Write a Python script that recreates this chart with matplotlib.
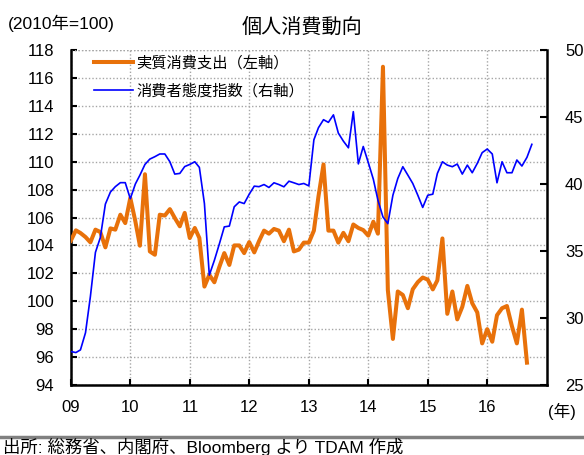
import matplotlib
matplotlib.use('Agg')
import matplotlib.pyplot as plt
import matplotlib.dates as mdates
import pandas as pd

plt.rcParams['font.family'] = ['Liberation Sans', 'Noto Sans CJK JP']

# 月次データ (2008-12 〜)
spending = [104.34, 105.08, 104.89, 104.6, 104.22, 105.13, 104.96, 103.86, 105.22, 105.13,
            106.2, 105.6, 107.4, 105.73, 103.98, 109.1, 103.57, 103.33, 106.2, 106.14,
            106.6, 105.97, 105.37, 106.33, 104.53, 105.25, 104.53, 101.05, 101.89, 101.36,
            102.44, 103.45, 102.6, 104.0, 104.0, 103.45, 104.24, 103.5, 104.3, 105.06,
            104.84, 105.18, 105.06, 104.3, 105.13, 103.57, 103.7, 104.2, 104.2, 105.06,
            107.5, 109.8, 105.06, 105.06, 104.2, 104.9, 104.3, 105.5, 105.25, 105.1,
            104.7, 105.7, 104.84, 116.8, 100.8, 97.3, 100.7, 100.45, 99.5, 100.86,
            101.37, 101.7, 101.55, 100.85, 101.5, 104.5, 99.1, 100.7, 98.7, 99.6,
            101.1, 99.86, 99.2, 96.98, 98.0, 97.1, 99.0, 99.5, 99.66, 98.2,
            96.98, 99.4, 95.6]

confidence = [27.5, 27.42, 27.62, 28.9, 31.6, 34.9, 36.0, 38.5, 39.4, 39.8,
              40.1, 40.1, 38.9, 40.0, 40.66, 41.46, 41.86, 42.04, 42.24, 42.24,
              41.66, 40.74, 40.79, 41.3, 41.46, 41.66, 41.24, 38.54, 33.2, 34.3,
              35.5, 36.8, 36.86, 38.3, 38.66, 38.54, 39.24, 39.84, 39.8, 39.96,
              39.74, 40.09, 39.96, 39.79, 40.21, 40.09, 39.96, 40.04, 39.86, 43.3,
              44.2, 44.8, 44.6, 45.16, 43.8, 43.2, 42.7, 45.4, 41.5, 42.8,
              41.6, 40.35, 38.8, 37.54, 37.04, 39.16, 40.41, 41.29, 40.66, 40.04,
              39.16, 38.25, 39.16, 39.24, 40.79, 41.66, 41.41, 41.29, 41.49, 40.74,
              41.41, 40.84, 41.54, 42.34, 42.61, 42.24, 40.09, 41.66, 40.84, 40.84,
              41.79, 41.34, 41.99, 42.96]

years = list(range(2009, 2017))
left_ticks = list(range(94, 119, 2))
right_ticks = [25, 30, 35, 40, 45, 50]

dates_s = pd.date_range('2008-12-01', periods=len(spending), freq='MS') + pd.offsets.MonthEnd(0)
dates_c = pd.date_range('2008-12-01', periods=len(confidence), freq='MS') + pd.offsets.MonthEnd(0)

fig = plt.figure(figsize=(5.84, 4.55), dpi=100)
ax = fig.add_axes([71/584, 1 - 385/455, 476/584, 335/455])
ax2 = ax.twinx()

orange = '#E8710A'
l1, = ax.plot(dates_s, spending, color=orange, lw=2.9, label='実質消費支出（左軸）', zorder=3)
l2, = ax2.plot(dates_c, confidence, color='#0000FF', lw=1.2, label='消費者態度指数（右軸）', zorder=3)

ax.set_xlim(pd.Timestamp('2009-01-01'), pd.Timestamp('2017-01-01'))
ax.set_ylim(94, 118)
ax.set_yticks(left_ticks)
ax2.set_ylim(25, 50)
ax2.set_yticks(right_ticks)

ax.set_xticks([pd.Timestamp(f'{y}-01-01') for y in years])
ax.xaxis.set_major_formatter(mdates.DateFormatter('%y'))

grid_style = dict(color='#A6A6A6', linestyle=(0, (1, 1.5)), linewidth=1.0)
ax.grid(True, **grid_style)
ax.set_axisbelow(True)

for a in (ax, ax2):
    for s in ('left', 'right', 'bottom'):
        a.spines[s].set_linewidth(1.8)
        a.spines[s].set_color('black')
    a.spines['top'].set_visible(False)
ax.spines['right'].set_visible(False)
ax2.spines['left'].set_visible(False)
ax2.spines['bottom'].set_visible(False)
ax.axhline(118, **grid_style)

ax.tick_params(axis='y', direction='in', length=4, width=1.5, labelsize=12, pad=12)
ax.tick_params(axis='x', direction='in', length=4, width=1.5, labelsize=12, pad=11)
ax2.tick_params(axis='y', direction='in', length=5, width=1.5, labelsize=12, pad=13)

leg = ax2.legend(handles=[l1, l2], loc='upper left', bbox_to_anchor=(0.035, 1.0),
                 frameon=False, fontsize=11, handlelength=2.6, handletextpad=0.2,
                 labelspacing=0.85, borderpad=0.4, borderaxespad=0)

fig.text(302/584, 1 - 27/455, '個人消費動向', ha='center', va='center', fontsize=14.5)
fig.text(8/584, 1 - 23/455, '(2010年=100)', ha='left', va='center', fontsize=12.5)
fig.text(548/584, 1 - 411/455, '(年)', ha='left', va='center', fontsize=12)

fig.add_artist(plt.Line2D([0, 1], [1 - 437/455, 1 - 437/455], color='#808080', lw=2.5))
fig.text(3/584, 1 - 447/455, '出所: 総務省、内閣府、Bloomberg より TDAM 作成',
         ha='left', va='center', fontsize=12.5)

fig.savefig('out.png', dpi=100)
